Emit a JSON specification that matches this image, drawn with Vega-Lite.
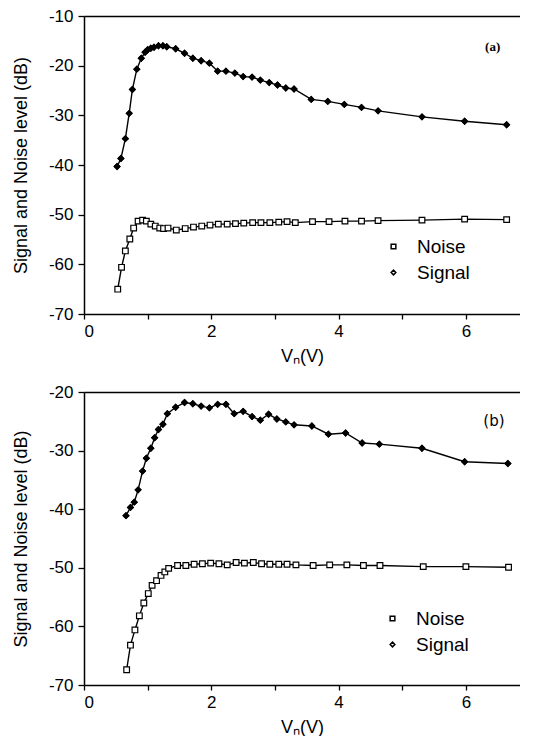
{
  "$schema": "https://vega.github.io/schema/vega-lite/v6.json",
  "background": "white",
  "padding": {"left": 12, "top": 7, "right": 0, "bottom": 0},
  "spacing": 18,
  "resolve": {"scale": {"shape": "independent", "fill": "independent"}, "legend": {"shape": "independent", "fill": "independent"}},
  "config": {
    "font": "Liberation Sans",
    "view": {"stroke": null},
    "axis": {
      "grid": false,
      "domainColor": "black",
      "domainWidth": 1.5,
      "tickColor": "black",
      "tickWidth": 1.3,
      "tickSize": 6,
      "labelColor": "black",
      "titleColor": "black",
      "labelFont": "Liberation Sans",
      "titleFont": "Liberation Sans",
      "labelFontSize": 17,
      "titleFontSize": 18,
      "titleFontWeight": "normal"
    },
    "legend": {
      "labelFont": "Liberation Sans",
      "labelFontSize": 19,
      "labelColor": "black"
    }
  },
  "datasets": {
    "a": [
      {"V": 0.52, "dB": -40.3, "series": "Signal"},
      {"V": 0.58, "dB": -38.7, "series": "Signal"},
      {"V": 0.65, "dB": -34.7, "series": "Signal"},
      {"V": 0.71, "dB": -29.6, "series": "Signal"},
      {"V": 0.76, "dB": -24.8, "series": "Signal"},
      {"V": 0.83, "dB": -20.7, "series": "Signal"},
      {"V": 0.90, "dB": -18.5, "series": "Signal"},
      {"V": 0.96, "dB": -17.3, "series": "Signal"},
      {"V": 1.00, "dB": -16.8, "series": "Signal"},
      {"V": 1.05, "dB": -16.5, "series": "Signal"},
      {"V": 1.10, "dB": -16.3, "series": "Signal"},
      {"V": 1.17, "dB": -16.0, "series": "Signal"},
      {"V": 1.24, "dB": -16.0, "series": "Signal"},
      {"V": 1.30, "dB": -16.2, "series": "Signal"},
      {"V": 1.44, "dB": -16.6, "series": "Signal"},
      {"V": 1.58, "dB": -17.5, "series": "Signal"},
      {"V": 1.71, "dB": -18.5, "series": "Signal"},
      {"V": 1.84, "dB": -19.0, "series": "Signal"},
      {"V": 1.97, "dB": -19.5, "series": "Signal"},
      {"V": 2.10, "dB": -21.1, "series": "Signal"},
      {"V": 2.23, "dB": -21.1, "series": "Signal"},
      {"V": 2.37, "dB": -21.5, "series": "Signal"},
      {"V": 2.50, "dB": -22.2, "series": "Signal"},
      {"V": 2.64, "dB": -22.3, "series": "Signal"},
      {"V": 2.77, "dB": -22.9, "series": "Signal"},
      {"V": 2.91, "dB": -23.4, "series": "Signal"},
      {"V": 3.04, "dB": -23.9, "series": "Signal"},
      {"V": 3.17, "dB": -24.5, "series": "Signal"},
      {"V": 3.30, "dB": -24.7, "series": "Signal"},
      {"V": 3.57, "dB": -26.8, "series": "Signal"},
      {"V": 3.83, "dB": -27.2, "series": "Signal"},
      {"V": 4.09, "dB": -27.8, "series": "Signal"},
      {"V": 4.36, "dB": -28.4, "series": "Signal"},
      {"V": 4.62, "dB": -29.1, "series": "Signal"},
      {"V": 5.31, "dB": -30.3, "series": "Signal"},
      {"V": 5.98, "dB": -31.2, "series": "Signal"},
      {"V": 6.64, "dB": -31.9, "series": "Signal"},
      {"V": 0.53, "dB": -65.0, "series": "Noise"},
      {"V": 0.59, "dB": -60.6, "series": "Noise"},
      {"V": 0.65, "dB": -57.3, "series": "Noise"},
      {"V": 0.72, "dB": -54.9, "series": "Noise"},
      {"V": 0.78, "dB": -52.7, "series": "Noise"},
      {"V": 0.85, "dB": -51.3, "series": "Noise"},
      {"V": 0.92, "dB": -51.1, "series": "Noise"},
      {"V": 0.98, "dB": -51.3, "series": "Noise"},
      {"V": 1.05, "dB": -51.9, "series": "Noise"},
      {"V": 1.12, "dB": -52.3, "series": "Noise"},
      {"V": 1.19, "dB": -52.7, "series": "Noise"},
      {"V": 1.25, "dB": -52.8, "series": "Noise"},
      {"V": 1.32, "dB": -52.7, "series": "Noise"},
      {"V": 1.45, "dB": -53.1, "series": "Noise"},
      {"V": 1.59, "dB": -52.8, "series": "Noise"},
      {"V": 1.72, "dB": -52.5, "series": "Noise"},
      {"V": 1.85, "dB": -52.3, "series": "Noise"},
      {"V": 1.98, "dB": -52.1, "series": "Noise"},
      {"V": 2.11, "dB": -51.9, "series": "Noise"},
      {"V": 2.25, "dB": -51.9, "series": "Noise"},
      {"V": 2.38, "dB": -51.8, "series": "Noise"},
      {"V": 2.51, "dB": -51.7, "series": "Noise"},
      {"V": 2.65, "dB": -51.6, "series": "Noise"},
      {"V": 2.78, "dB": -51.6, "series": "Noise"},
      {"V": 2.92, "dB": -51.6, "series": "Noise"},
      {"V": 3.06, "dB": -51.5, "series": "Noise"},
      {"V": 3.19, "dB": -51.4, "series": "Noise"},
      {"V": 3.32, "dB": -51.6, "series": "Noise"},
      {"V": 3.59, "dB": -51.4, "series": "Noise"},
      {"V": 3.85, "dB": -51.4, "series": "Noise"},
      {"V": 4.10, "dB": -51.3, "series": "Noise"},
      {"V": 4.36, "dB": -51.3, "series": "Noise"},
      {"V": 4.62, "dB": -51.2, "series": "Noise"},
      {"V": 5.31, "dB": -51.1, "series": "Noise"},
      {"V": 5.98, "dB": -50.9, "series": "Noise"},
      {"V": 6.64, "dB": -51.0, "series": "Noise"}
    ],
    "b": [
      {"V": 0.66, "dB": -41.1, "series": "Signal"},
      {"V": 0.73, "dB": -39.7, "series": "Signal"},
      {"V": 0.79, "dB": -38.8, "series": "Signal"},
      {"V": 0.85, "dB": -36.7, "series": "Signal"},
      {"V": 0.92, "dB": -33.5, "series": "Signal"},
      {"V": 0.98, "dB": -31.3, "series": "Signal"},
      {"V": 1.05, "dB": -29.6, "series": "Signal"},
      {"V": 1.11, "dB": -27.8, "series": "Signal"},
      {"V": 1.17, "dB": -26.4, "series": "Signal"},
      {"V": 1.24, "dB": -25.5, "series": "Signal"},
      {"V": 1.31, "dB": -23.7, "series": "Signal"},
      {"V": 1.44, "dB": -22.6, "series": "Signal"},
      {"V": 1.58, "dB": -21.8, "series": "Signal"},
      {"V": 1.71, "dB": -22.0, "series": "Signal"},
      {"V": 1.84, "dB": -22.4, "series": "Signal"},
      {"V": 1.97, "dB": -22.7, "series": "Signal"},
      {"V": 2.10, "dB": -22.1, "series": "Signal"},
      {"V": 2.23, "dB": -22.1, "series": "Signal"},
      {"V": 2.36, "dB": -23.7, "series": "Signal"},
      {"V": 2.50, "dB": -23.3, "series": "Signal"},
      {"V": 2.64, "dB": -24.2, "series": "Signal"},
      {"V": 2.77, "dB": -24.8, "series": "Signal"},
      {"V": 2.90, "dB": -23.8, "series": "Signal"},
      {"V": 3.03, "dB": -24.6, "series": "Signal"},
      {"V": 3.17, "dB": -25.1, "series": "Signal"},
      {"V": 3.30, "dB": -25.6, "series": "Signal"},
      {"V": 3.58, "dB": -25.8, "series": "Signal"},
      {"V": 3.84, "dB": -27.2, "series": "Signal"},
      {"V": 4.11, "dB": -27.0, "series": "Signal"},
      {"V": 4.37, "dB": -28.7, "series": "Signal"},
      {"V": 4.64, "dB": -28.9, "series": "Signal"},
      {"V": 5.31, "dB": -29.6, "series": "Signal"},
      {"V": 5.98, "dB": -31.9, "series": "Signal"},
      {"V": 6.66, "dB": -32.2, "series": "Signal"},
      {"V": 0.67, "dB": -67.4, "series": "Noise"},
      {"V": 0.73, "dB": -63.2, "series": "Noise"},
      {"V": 0.80, "dB": -60.6, "series": "Noise"},
      {"V": 0.87, "dB": -58.2, "series": "Noise"},
      {"V": 0.94, "dB": -56.0, "series": "Noise"},
      {"V": 1.01, "dB": -54.4, "series": "Noise"},
      {"V": 1.07, "dB": -53.0, "series": "Noise"},
      {"V": 1.14, "dB": -52.2, "series": "Noise"},
      {"V": 1.21, "dB": -51.3, "series": "Noise"},
      {"V": 1.27, "dB": -50.7, "series": "Noise"},
      {"V": 1.33, "dB": -50.1, "series": "Noise"},
      {"V": 1.47, "dB": -49.6, "series": "Noise"},
      {"V": 1.60, "dB": -49.6, "series": "Noise"},
      {"V": 1.73, "dB": -49.4, "series": "Noise"},
      {"V": 1.86, "dB": -49.3, "series": "Noise"},
      {"V": 1.99, "dB": -49.2, "series": "Noise"},
      {"V": 2.12, "dB": -49.3, "series": "Noise"},
      {"V": 2.25, "dB": -49.5, "series": "Noise"},
      {"V": 2.39, "dB": -49.1, "series": "Noise"},
      {"V": 2.52, "dB": -49.2, "series": "Noise"},
      {"V": 2.66, "dB": -49.1, "series": "Noise"},
      {"V": 2.79, "dB": -49.3, "series": "Noise"},
      {"V": 2.92, "dB": -49.4, "series": "Noise"},
      {"V": 3.06, "dB": -49.4, "series": "Noise"},
      {"V": 3.19, "dB": -49.4, "series": "Noise"},
      {"V": 3.33, "dB": -49.5, "series": "Noise"},
      {"V": 3.60, "dB": -49.6, "series": "Noise"},
      {"V": 3.86, "dB": -49.5, "series": "Noise"},
      {"V": 4.13, "dB": -49.5, "series": "Noise"},
      {"V": 4.39, "dB": -49.6, "series": "Noise"},
      {"V": 4.65, "dB": -49.6, "series": "Noise"},
      {"V": 5.33, "dB": -49.8, "series": "Noise"},
      {"V": 6.00, "dB": -49.8, "series": "Noise"},
      {"V": 6.67, "dB": -49.9, "series": "Noise"}
    ]
  },
  "vconcat": [
    {
      "width": 436,
      "height": 298,
      "data": {"name": "a"},
      "resolve": {"axis": {"x": "independent"}},
      "layer": [
        {
          "mark": {"type": "line", "color": "black", "strokeWidth": 1.4},
          "encoding": {
            "x": {"field": "V", "type": "quantitative",
              "scale": {"domain": [0, 6.85], "nice": false, "zero": false},
              "axis": {"orient": "bottom", "values": [0, 1, 2, 3, 4, 5, 6], "labelExpr": "datum.value % 2 === 0 ? '' + datum.value : ''", "tickSize": 5, "labelPadding": 4, "titlePadding": 8, "title": "Vₙ(V)"}},
            "y": {"field": "dB", "type": "quantitative",
              "scale": {"domain": [-70, -10], "nice": false, "zero": false},
              "axis": {"values": [-70, -60, -50, -40, -30, -20, -10], "labelExpr": "'' + datum.value", "labelPadding": 5, "titlePadding": 18, "title": "Signal and Noise level (dB)"}},
            "detail": {"field": "series"}
          }
        },
        {
          "mark": {"type": "point", "filled": true, "size": 32, "strokeWidth": 1.2, "opacity": 1},
          "encoding": {
            "x": {"field": "V", "type": "quantitative",
              "axis": {"orient": "top", "labels": false, "ticks": false, "title": null}},
            "y": {"field": "dB", "type": "quantitative"},
            "shape": {"field": "series", "type": "nominal",
              "scale": {"domain": ["Noise", "Signal"], "range": ["square", "diamond"]},
              "legend": {"orient": "none", "legendX": 300, "legendY": 221, "title": null, "symbolSize": 22, "symbolStrokeWidth": 1.5, "labelOffset": 14, "rowPadding": 6, "padding": 0}},
            "fill": {"field": "series", "type": "nominal",
              "scale": {"domain": ["Noise", "Signal"], "range": ["white", "white"]}, "legend": null},
            "stroke": {"value": "black"}
          }
        },
        {
          "transform": [{"filter": "datum.series === 'Signal'"}],
          "mark": {"type": "point", "shape": "diamond", "filled": true, "fill": "black", "stroke": "black", "size": 32, "strokeWidth": 1.2, "opacity": 1},
          "encoding": {
            "x": {"field": "V", "type": "quantitative", "axis": null},
            "y": {"field": "dB", "type": "quantitative"}
          }
        },
        {
          "data": {"values": [{"V": 6.42, "dB": -16.2, "label": "(a)"}]},
          "mark": {"type": "text", "font": "Liberation Serif", "fontWeight": "bold", "fontSize": 13, "color": "black"},
          "encoding": {
            "x": {"field": "V", "type": "quantitative", "axis": null},
            "y": {"field": "dB", "type": "quantitative"},
            "text": {"field": "label"}
          }
        }
      ]
    },
    {
      "width": 436,
      "height": 293,
      "data": {"name": "b"},
      "resolve": {"axis": {"x": "independent"}},
      "layer": [
        {
          "mark": {"type": "line", "color": "black", "strokeWidth": 1.4},
          "encoding": {
            "x": {"field": "V", "type": "quantitative",
              "scale": {"domain": [0, 6.85], "nice": false, "zero": false},
              "axis": {"orient": "bottom", "values": [0, 1, 2, 3, 4, 5, 6], "labelExpr": "datum.value % 2 === 0 ? '' + datum.value : ''", "tickSize": 5, "labelPadding": 4, "titlePadding": 8, "title": "Vₙ(V)"}},
            "y": {"field": "dB", "type": "quantitative",
              "scale": {"domain": [-70, -20], "nice": false, "zero": false},
              "axis": {"values": [-70, -65, -60, -55, -50, -45, -40, -35, -30, -25, -20], "labelExpr": "datum.value % 10 === 0 ? '' + datum.value : ''", "labelPadding": 5, "titlePadding": 18, "title": "Signal and Noise level (dB)"}},
            "detail": {"field": "series"}
          }
        },
        {
          "mark": {"type": "point", "filled": true, "size": 32, "strokeWidth": 1.2, "opacity": 1},
          "encoding": {
            "x": {"field": "V", "type": "quantitative",
              "axis": {"orient": "top", "labels": false, "ticks": false, "title": null}},
            "y": {"field": "dB", "type": "quantitative"},
            "shape": {"field": "series", "type": "nominal",
              "scale": {"domain": ["Noise", "Signal"], "range": ["square", "diamond"]},
              "legend": {"orient": "none", "legendX": 299, "legendY": 217, "title": null, "symbolSize": 22, "symbolStrokeWidth": 1.5, "labelOffset": 14, "rowPadding": 6, "padding": 0}},
            "fill": {"field": "series", "type": "nominal",
              "scale": {"domain": ["Noise", "Signal"], "range": ["white", "white"]}, "legend": null},
            "stroke": {"value": "black"}
          }
        },
        {
          "transform": [{"filter": "datum.series === 'Signal'"}],
          "mark": {"type": "point", "shape": "diamond", "filled": true, "fill": "black", "stroke": "black", "size": 32, "strokeWidth": 1.2, "opacity": 1},
          "encoding": {
            "x": {"field": "V", "type": "quantitative", "axis": null},
            "y": {"field": "dB", "type": "quantitative"}
          }
        },
        {
          "data": {"values": [{"V": 6.44, "dB": -24.9, "label": "(b)"}]},
          "mark": {"type": "text", "font": "DejaVu Sans", "fontSize": 15, "color": "black"},
          "encoding": {
            "x": {"field": "V", "type": "quantitative", "axis": null},
            "y": {"field": "dB", "type": "quantitative"},
            "text": {"field": "label"}
          }
        }
      ]
    }
  ]
}
